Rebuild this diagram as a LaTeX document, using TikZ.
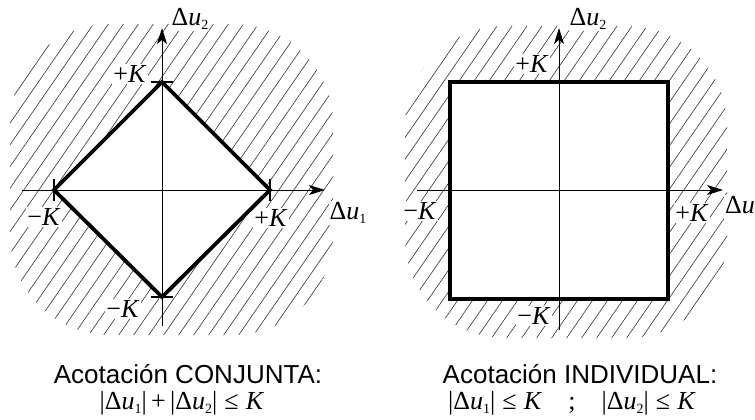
\documentclass[tikz,border=0pt]{standalone}
\usepackage{fontspec}
\setmainfont{Liberation Serif}
\newfontfamily\capfont{Liberation Sans}
\usetikzlibrary{arrows.meta}
\newcommand{\du}[1]{Δ\textit{u}\raisebox{-0.4ex}{\fontsize{14}{14}\selectfont #1}}
\newcommand{\pK}{+\textit{K}}
\newcommand{\mK}{−\textit{K}}
\tikzset{
  hatch/.style={line width=0.55pt, black!85},
  axis/.style={line width=1pt, -{Stealth[length=16pt,width=10pt,inset=4pt]}},
  bound/.style={line width=3.8pt, line join=miter},
  tickmark/.style={line width=1.2pt},
  lbl/.style={font=\fontsize{26}{26}\selectfont, inner sep=1pt},
  lblw/.style={lbl, fill=white},
  captext/.style={font=\capfont\fontsize{26}{26}\selectfont, inner sep=0pt, anchor=base},
  frm/.style={font=\fontsize{26}{26}\selectfont, inner sep=0pt, anchor=base}
}
\begin{document}
\begin{tikzpicture}[x=1pt,y=-1pt]
\useasboundingbox (0,0) rectangle (755,420);
% ---------- left: joint bound ----------
\coordinate (LT) at (162,82);
\coordinate (LB) at (162,297);
\coordinate (LL) at (54,190);
\coordinate (LR) at (270,190);
\begin{scope}
  \clip[rounded corners=100pt] (10,24) rectangle (333,335);
  \foreach \i in {-22,...,26} \draw[hatch] ({\i*15},420) -- ({\i*15+290},0);
\end{scope}
\fill[white] (LT) -- (LR) -- (LB) -- (LL) -- cycle;
\node[lblw] (lu2) at (190,19) {\du{2}};
\node[lblw] (ltk) at (130,74) {\pK};
\node[lblw] (llk) at (44,217) {\mK};
\node[lblw] (lrk) at (271,218) {\pK};
\node[lblw] (lu1) at (348,213) {\du{1}};
\node[lblw] (lbk) at (123,309) {\mK};
\coordinate (LXa) at (22,190);
\coordinate (LXb) at (325,190);
\coordinate (LYa) at (162,326);
\coordinate (LYb) at (162,28);
\draw[axis] (LXa) -- (LXb);
\draw[axis] (LYa) -- (LYb);
\draw[bound] (LT) -- (LR) -- (LB) -- (LL) -- cycle;
\draw[tickmark] ([xshift=-11pt]LT) -- ([xshift=11pt]LT);
\draw[tickmark] ([xshift=-11pt]LB) -- ([xshift=11pt]LB);
\draw[tickmark] ([yshift=-11pt]LL) -- ([yshift=11pt]LL);
\draw[tickmark] ([yshift=-11pt]LR) -- ([yshift=11pt]LR);
% ---------- right: individual bound ----------
\coordinate (SA) at (450,82);
\coordinate (SB) at (668,299);
\begin{scope}
  \clip[rounded corners=100pt] (405,26) rectangle (727,338);
  \foreach \i in {0,...,52} \draw[hatch] ({\i*15},420) -- ({\i*15+290},0);
\end{scope}
\fill[white] (SA) rectangle (SB);
\node[lblw] (ru2) at (588,19) {\du{2}};
\node[lblw] (rtk) at (532,64) {\pK};
\node[lblw] (rlk) at (420,211) {\mK};
\node[lblw] (rrk) at (692,213) {\pK};
\node[lblw, anchor=west] (ru1) at (724,207) {\du{1}};
\node[lblw] (rbk) at (534,316) {\mK};
\coordinate (RXa) at (417,190);
\coordinate (RXb) at (723,190);
\coordinate (RYa) at (559,330);
\coordinate (RYb) at (559,28);
\draw[axis] (RXa) -- (RXb);
\draw[axis] (RYa) -- (RYb);
\draw[bound] (SA) rectangle (SB);
% ---------- captions ----------
\node[captext] (c1) at (188,383) {Acotación CONJUNTA:};
\node[frm] (f1) at (182,409) {|\du{1}|\,+\,|\du{2}|\;≤\;\textit{K}};
\node[captext] (c2) at (580,383) {Acotación INDIVIDUAL:};
\node[frm] (f2) at (572,409) {|\du{1}|\;≤\;\textit{K}\quad;\quad|\du{2}|\;≤\;\textit{K}};
\end{tikzpicture}
\end{document}
